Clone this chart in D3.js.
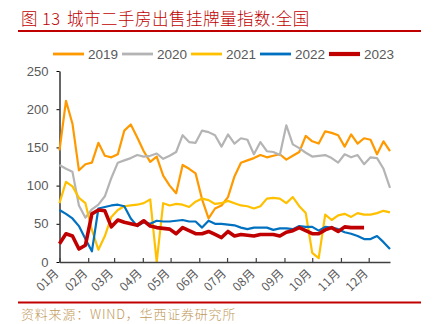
<!DOCTYPE html>
<html>
<head>
<meta charset="utf-8">
<script src="https://cdn.jsdelivr.net/npm/d3@7"></script>
<style>
  html, body { margin: 0; padding: 0; background: #fff; }
  svg { display: block; }
</style>
</head>
<body>
<div id="chart"></div>
<script>
// 周度挂牌量指数，每年52周（2023年截至11月底）
const months = ["01月", "02月", "03月", "04月", "05月", "06月", "07月", "08月", "09月", "10月", "11月", "12月"];
const monthStartDays = [0, 31, 59, 90, 120, 151, 181, 212, 243, 273, 304, 334];
const yTicks = [0, 50, 100, 150, 200, 250];

const years = ["2019", "2020", "2021", "2022", "2023"];

const v2019 = [146, 211, 181, 120, 128, 130, 156, 139, 137, 141, 172, 180, 163, 145, 131, 138, 113, 100, 90, 127,
  122, 116, 82, 57, 70, 74, 85, 112, 130, 133, 136, 140, 137, 139, 141, 134, 139, 144, 165, 158,
  155, 171, 169, 166, 151, 167, 155, 162, 160, 141, 158, 145];
const v2020 = [127, 122, 118, 74, 58, 69, 75, 86, 110, 130, 133, 136, 140, 138, 139, 142, 135, 139, 144, 166,
  157, 156, 172, 170, 166, 151, 167, 155, 162, 160, 141, 157, 145, 144, 140, 179, 154, 149, 143, 138,
  139, 140, 136, 130, 141, 137, 140, 128, 137, 136, 122, 97];
const v2021 = [77, 105, 99, 84, 77, 42, 16, 34, 59, 68, 73, 74, 75, 77, 82, 0, 77, 74, 76, 75,
  72, 79, 83, 81, 76, 77, 80, 77, 74, 73, 70, 73, 83, 84, 83, 77, 85, 73, 64, 12,
  5, 62, 55, 61, 63, 59, 64, 62, 62, 64, 67, 65];
const v2022 = [68, 63, 57, 47, 30, 14, 70, 72, 74, 75, 73, 57, 47, 52, 50, 54, 53, 53, 54, 55,
  53, 53, 45, 54, 50, 50, 49, 48, 45, 43, 45, 45, 45, 42, 44, 44, 43, 47, 46, 46,
  41, 46, 45, 43, 39, 37, 34, 30, 30, 34, 26, 17];
const v2023 = [24, 37, 34, 17, 22, 63, 68, 67, 46, 55, 52, 50, 48, 54, 47, 45, 44, 43, 37, 45,
  41, 37, 37, 40, 36, 32, 40, 34, 36, 35, 34, 36, 36, 36, 34, 39, 41, 45, 41, 37,
  37, 42, 45, 40, 46, 45, 45, 45];

function drawListingIndex(containerId) {
  const width = 434;
  const height = 324;
  const plot = { left: 59.5, right: 390, top: 71, bottom: 262 };

  const series = [
    { name: years[0], values: v2019, color: "#FF9900", w: 2.2 },
    { name: years[1], values: v2020, color: "#B4B4B4", w: 2.2 },
    { name: years[2], values: v2021, color: "#FFC000", w: 2.2 },
    { name: years[3], values: v2022, color: "#0070C0", w: 2.2 },
    { name: years[4], values: v2023, color: "#C00000", w: 3.6 }
  ];

  const svg = d3.select(containerId).append("svg")
    .attr("width", width).attr("height", height)
    .attr("viewBox", [0, 0, width, height])
    .style("background", "#fff");

  // 标题
  const title = svg.append("text")
    .attr("y", 25)
    .attr("fill", "#C00000")
    .style("font-family", "'Noto Sans CJK SC', sans-serif")
    .style("font-weight", 300)
    .style("font-size", "16.5px")
    .style("letter-spacing", "0.5px");
  title.append("tspan").attr("x", 21).text("图");
  title.append("tspan").attr("x", 42).text("13");
  title.append("tspan").attr("x", 67).text("城市二手房出售挂牌量指数:全国");

  svg.append("line")
    .attr("x1", 18).attr("x2", 421).attr("y1", 31).attr("y2", 31)
    .attr("stroke", "#C00000").attr("stroke-width", 2);

  // 图例
  const leg = svg.append("g").attr("transform", "translate(53, 54)");
  series.forEach((s, i) => {
    const item = leg.append("g").attr("transform", `translate(${i * 69}, 0)`);
    item.append("line").attr("x1", 0).attr("x2", 31).attr("y1", 0).attr("y2", 0)
      .attr("stroke", s.color).attr("stroke-width", s.w + 0.6);
    item.append("text").attr("x", 35).attr("y", 0).attr("dy", "0.35em")
      .attr("fill", "#595959")
      .style("font-family", "'Liberation Sans', Arial, sans-serif")
      .style("font-size", "13.5px")
      .text(s.name);
  });

  // 比例尺：横轴按年内天数（周度数据，每周7天）
  const x = d3.scaleLinear().domain([0, 357]).range([plot.left, plot.right]);
  const y = d3.scaleLinear().domain([0, 250]).range([plot.bottom, plot.top]);

  // 纵轴
  const yAxis = svg.append("g")
    .attr("transform", `translate(${plot.left},0)`)
    .call(d3.axisLeft(y).tickValues(yTicks).tickSize(3).tickSizeOuter(0).tickPadding(8));
  yAxis.select(".domain").attr("stroke", "#000").attr("stroke-width", 1.2);
  yAxis.selectAll(".tick line").attr("stroke", "#000");
  yAxis.selectAll("text")
    .attr("fill", "#595959")
    .style("font-family", "'Liberation Sans', Arial, sans-serif")
    .style("font-size", "13px");

  // 折线
  const line = d3.line()
    .x((d, i) => x(i * 7))
    .y(d => y(d));

  series.forEach(s => {
    svg.append("path")
      .datum(s.values)
      .attr("fill", "none")
      .attr("stroke", s.color)
      .attr("stroke-width", s.w)
      .attr("stroke-linejoin", "round")
      .attr("d", line);
  });

  // 横轴（月份标签斜放）
  const xAxis = svg.append("g")
    .attr("transform", `translate(0,${plot.bottom})`)
    .call(d3.axisBottom(x).tickValues(monthStartDays).tickSize(-4).tickSizeOuter(0)
      .tickFormat((d, i) => months[i]));
  xAxis.select(".domain").attr("stroke", "#404040").attr("stroke-width", 1.6);
  xAxis.selectAll(".tick line").attr("stroke", "#404040").attr("stroke-width", 1.2);
  xAxis.selectAll("text")
    .attr("x", -9).attr("y", 4).attr("dy", "0.35em")
    .attr("transform", "rotate(-45)")
    .style("text-anchor", "end")
    .attr("fill", "#595959")
    .style("font-family", "'Noto Sans CJK SC', sans-serif")
    .style("font-size", "12px");

  // 资料来源
  svg.append("line")
    .attr("x1", 18).attr("x2", 421).attr("y1", 302.5).attr("y2", 302.5)
    .attr("stroke", "#C00000").attr("stroke-width", 2);

  svg.append("text")
    .attr("x", 21).attr("y", 319)
    .attr("fill", "#BF9A5C")
    .style("font-family", "'Noto Sans CJK SC', sans-serif")
    .style("font-weight", 300)
    .style("font-size", "13px")
    .style("letter-spacing", "0.8px")
    .text("资料来源：WIND，华西证券研究所");
}

drawListingIndex("#chart");
</script>
</body>
</html>
